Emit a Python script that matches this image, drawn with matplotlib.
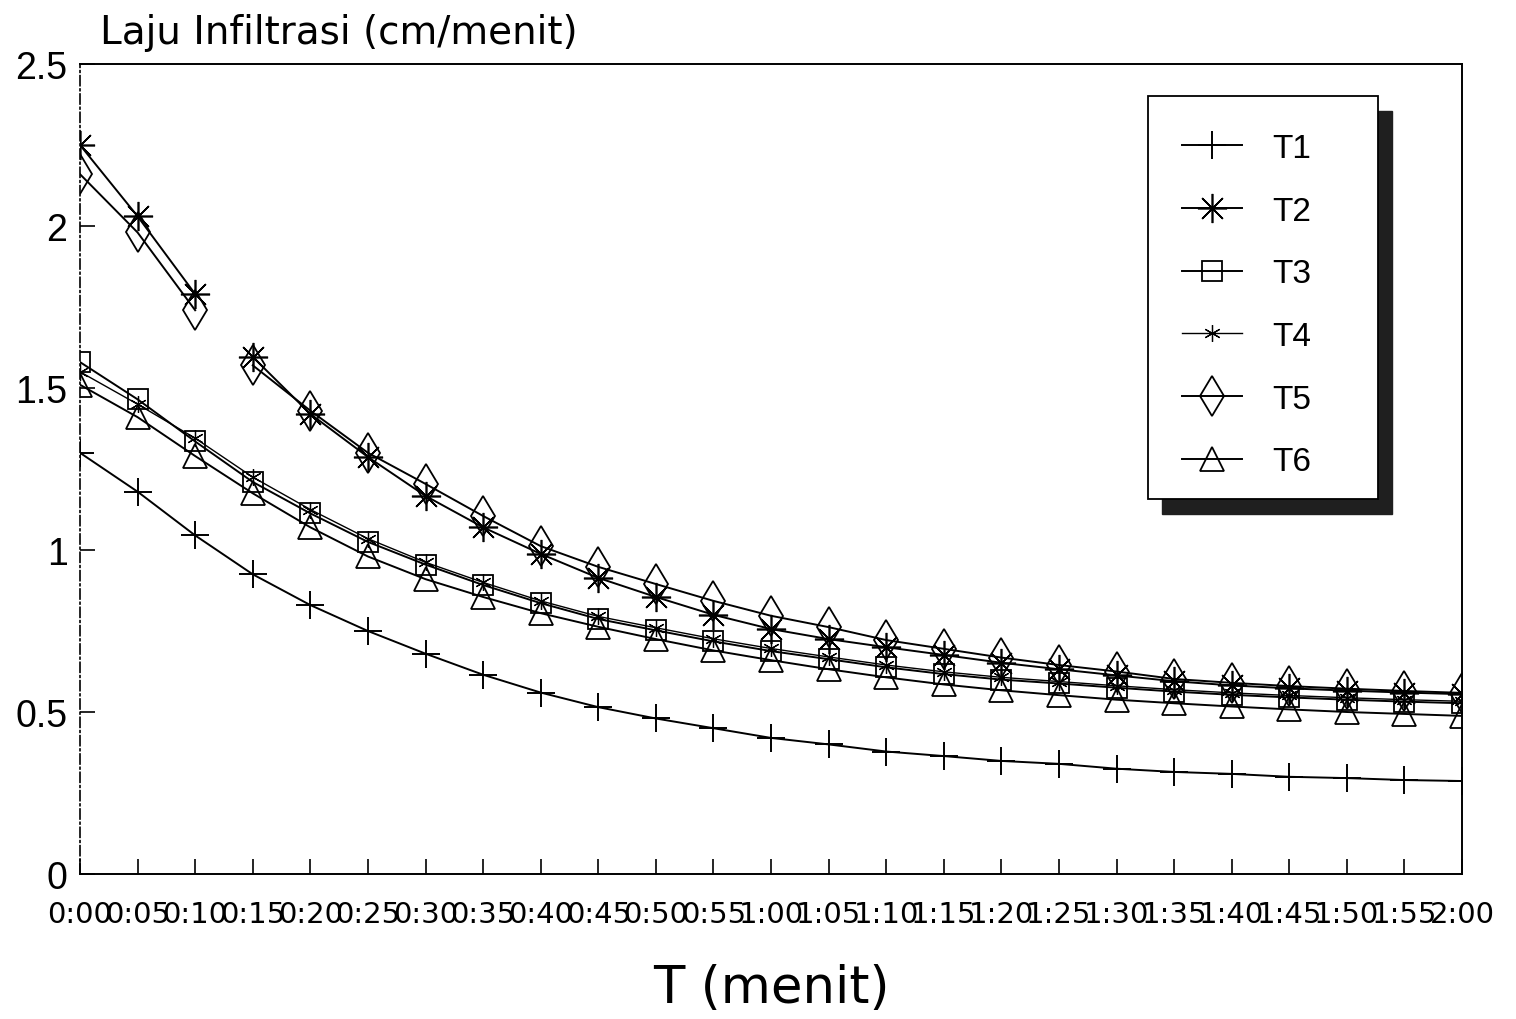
import matplotlib
matplotlib.use("Agg")
import matplotlib.pyplot as plt
from matplotlib.patches import Rectangle

# ---- data ----
minutes = [0, 5, 10, 15, 20, 25, 30, 35, 40, 45, 50, 55, 60,
           65, 70, 75, 80, 85, 90, 95, 100, 105, 110, 115, 120]
tick_labels = ["0:00", "0:05", "0:10", "0:15", "0:20", "0:25", "0:30", "0:35",
               "0:40", "0:45", "0:50", "0:55", "1:00", "1:05", "1:10", "1:15",
               "1:20", "1:25", "1:30", "1:35", "1:40", "1:45", "1:50", "1:55", "2:00"]
y_ticks = [0, 0.5, 1, 1.5, 2, 2.5]
y_tick_labels = ["0", "0.5", "1", "1.5", "2", "2.5"]

t1 = [1.30, 1.18, 1.045, 0.925, 0.83, 0.75, 0.68, 0.615, 0.56, 0.515, 0.48, 0.45, 0.42,
      0.40, 0.378, 0.364, 0.349, 0.34, 0.325, 0.315, 0.309, 0.30, 0.296, 0.29, 0.287]
t2 = [2.25, 2.03, 1.79, 1.596, 1.42, 1.287, 1.167, 1.07, 0.988, 0.914, 0.855, 0.80, 0.756,
      0.725, 0.70, 0.676, 0.652, 0.632, 0.613, 0.595, 0.582, 0.573, 0.566, 0.56, 0.555]
t3 = [1.58, 1.465, 1.335, 1.21, 1.113, 1.025, 0.955, 0.892, 0.836, 0.787, 0.752, 0.718, 0.688,
      0.663, 0.638, 0.617, 0.60, 0.588, 0.575, 0.563, 0.553, 0.545, 0.538, 0.532, 0.527]
t4 = [1.55, 1.45, 1.345, 1.225, 1.125, 1.035, 0.962, 0.90, 0.843, 0.795, 0.76, 0.726, 0.696,
      0.67, 0.645, 0.624, 0.607, 0.594, 0.581, 0.569, 0.559, 0.551, 0.544, 0.538, 0.533]
t5 = [2.16, 1.98, 1.74, 1.57, 1.43, 1.30, 1.204, 1.105, 1.012, 0.948, 0.895, 0.843, 0.797,
      0.762, 0.722, 0.695, 0.668, 0.645, 0.625, 0.602, 0.59, 0.58, 0.572, 0.565, 0.559]
t6 = [1.51, 1.41, 1.29, 1.175, 1.07, 0.98, 0.91, 0.855, 0.805, 0.763, 0.725, 0.69, 0.66,
      0.632, 0.607, 0.585, 0.567, 0.552, 0.538, 0.527, 0.517, 0.508, 0.50, 0.494, 0.488]
series_labels = ["T1", "T2", "T3", "T4", "T5", "T6"]

# ---- figure ----
W, H = 1516, 1020
fig = plt.figure(figsize=(W / 100, H / 100), dpi=100)
fig.patch.set_facecolor("white")
ax = fig.add_axes([80 / W, 1 - 875 / H, (1462 - 80) / W, (875 - 65) / H])

styles = [
    dict(marker="+", ms=20, mew=1.4),
    dict(marker=(8, 2, 0), ms=21, mew=1.2),
    dict(marker="s", ms=15, mew=1.3, mfc="none"),
    dict(marker=(6, 2, 0), ms=12, mew=0.9),
    dict(marker="d", ms=20, mew=1.3, mfc="none"),
    dict(marker="^", ms=17, mew=1.3, mfc="none"),
]
data = [t1, t2, t3, t4, t5, t6]
handles = []
for i, (vals, st) in enumerate(zip(data, styles)):
    lw = 1.0 if i == 3 else 1.4
    if i in (1, 4):
        # curve is broken between 0:10 and 0:15 in the original
        h, = ax.plot(minutes[:3], vals[:3], color="black", lw=lw, mec="black", **st)
        ax.plot(minutes[3:], vals[3:], color="black", lw=lw, mec="black", **st)
    else:
        h, = ax.plot(minutes, vals, color="black", lw=lw, mec="black", **st)
    handles.append(h)

ax.set_xlim(0, 120)
ax.set_ylim(0, 2.5)
ax.set_xticks(minutes)
ax.set_xticklabels(tick_labels, fontfamily="DejaVu Sans", fontsize=21)
ax.set_yticks(y_ticks)
ax.set_yticklabels(y_tick_labels, fontfamily="Liberation Sans", fontsize=27)
ax.tick_params(axis="x", direction="in", length=11, width=1.2, pad=19)
ax.tick_params(axis="y", direction="in", length=11, width=1.2, pad=9)

for s in ["top", "right", "bottom"]:
    ax.spines[s].set_linewidth(1.4)
ax.spines["left"].set_linewidth(1.2)
ax.spines["left"].set_linestyle((0, (6, 2, 1, 2)))

fig.text(100 / W, 1 - 44 / H, "Laju Infiltrasi (cm/menit)", fontfamily="DejaVu Sans",
         fontsize=28, ha="left", va="baseline")
fig.text(771 / W, 1 - 1003 / H, "T (menit)", fontfamily="DejaVu Sans",
         fontsize=37, ha="center", va="baseline")

# legend frame with shadow
lx0, ly0, lx1, ly1 = 1148, 97, 1378, 500
fig.add_artist(Rectangle(((lx0 + 14) / W, 1 - (ly1 + 15) / H), (lx1 - lx0) / W, (ly1 - ly0) / H,
                         transform=fig.transFigure, facecolor="0.12", edgecolor="0.12", zorder=3))
fig.add_artist(Rectangle((lx0 / W, 1 - ly1 / H), (lx1 - lx0) / W, (ly1 - ly0) / H,
                         transform=fig.transFigure, facecolor="white", edgecolor="black",
                         lw=1.3, zorder=4))
leg = fig.legend(handles, series_labels, loc="upper left",
                 bbox_to_anchor=(1182 / W, 1 - 134 / H), bbox_transform=fig.transFigure,
                 frameon=False, prop={"family": "Liberation Sans", "size": 24},
                 handlelength=1.8, handletextpad=0.9, labelspacing=0.95,
                 borderpad=0, borderaxespad=0, numpoints=1)
leg.set_zorder(5)

fig.savefig("out.png", dpi=100)
